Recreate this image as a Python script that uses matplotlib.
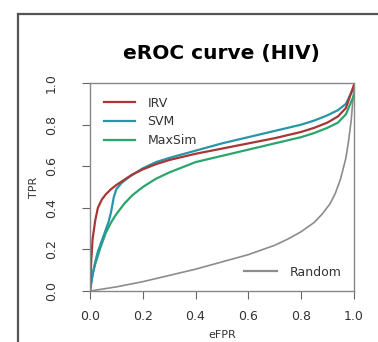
import numpy as np
import matplotlib
matplotlib.use('Agg')
import matplotlib.pyplot as plt
from matplotlib.lines import Line2D

# values
fpr_irv = [0.0, 0.005, 0.01, 0.02, 0.03, 0.045, 0.06, 0.08, 0.1, 0.13, 0.16, 0.2, 0.25, 0.3, 0.35,
           0.4, 0.5, 0.6, 0.7, 0.8, 0.85, 0.9, 0.94, 0.97, 1.0]
tpr_irv = [0.0, 0.15, 0.25, 0.34, 0.40, 0.44, 0.465, 0.49, 0.51, 0.535, 0.56, 0.585, 0.61, 0.63, 0.645,
           0.66, 0.685, 0.71, 0.735, 0.765, 0.785, 0.81, 0.84, 0.88, 0.99]

fpr_svm = [0.0, 0.01, 0.02, 0.03, 0.05, 0.07, 0.08, 0.09, 0.1, 0.12, 0.15, 0.2, 0.25, 0.3, 0.4,
           0.5, 0.6, 0.7, 0.8, 0.85, 0.9, 0.94, 0.97, 1.0]
tpr_svm = [0.0, 0.08, 0.14, 0.19, 0.26, 0.33, 0.38, 0.45, 0.49, 0.52, 0.55, 0.59, 0.62, 0.64, 0.675,
           0.71, 0.74, 0.77, 0.80, 0.82, 0.845, 0.87, 0.90, 0.98]

fpr_max = [0.0, 0.01, 0.02, 0.04, 0.06, 0.08, 0.1, 0.13, 0.16, 0.2, 0.25, 0.3, 0.4, 0.5, 0.6,
           0.7, 0.8, 0.85, 0.9, 0.94, 0.97, 1.0]
tpr_max = [0.0, 0.08, 0.13, 0.21, 0.28, 0.33, 0.37, 0.42, 0.46, 0.50, 0.54, 0.57, 0.62, 0.65, 0.68,
           0.71, 0.74, 0.76, 0.785, 0.81, 0.85, 0.94]

fpr_rand = [0.0, 0.1, 0.2, 0.3, 0.4, 0.5, 0.6, 0.7, 0.75, 0.8, 0.85, 0.88, 0.91, 0.93, 0.95,
            0.97, 0.98, 0.99, 1.0]
tpr_rand = [0.0, 0.02, 0.045, 0.075, 0.105, 0.14, 0.175, 0.22, 0.25, 0.285, 0.33, 0.37, 0.42, 0.47, 0.54,
            0.64, 0.72, 0.82, 0.97]

ticks = [0.0, 0.2, 0.4, 0.6, 0.8, 1.0]
tick_labels = ['0.0', '0.2', '0.4', '0.6', '0.8', '1.0']

col_irv = '#a83636'
col_svm = '#2696a8'
col_max = '#2aa66c'
col_rand = '#8c8c8c'

fig = plt.figure(figsize=(3.78, 3.42), dpi=100)
ax = fig.add_axes([0.238, 0.149, 0.698, 0.608])

ax.plot(fpr_rand, tpr_rand, color=col_rand, lw=1.2)
ax.plot(fpr_max, tpr_max, color=col_max, lw=1.6)
ax.plot(fpr_svm, tpr_svm, color=col_svm, lw=1.6)
ax.plot(fpr_irv, tpr_irv, color=col_irv, lw=1.6)

ax.set_xlim(0, 1)
ax.set_ylim(0, 1)
ax.set_xticks(ticks)
ax.set_xticklabels(tick_labels)
ax.set_yticks(ticks)
ax.set_yticklabels(tick_labels, rotation=90, va='center')
ax.tick_params(direction='out', length=6, width=0.8, colors='#666666',
               labelcolor='#333333', labelsize=9)
ax.tick_params(axis='x', pad=8)
ax.tick_params(axis='y', pad=17)
for s in ax.spines.values():
    s.set_color('#888888')
    s.set_linewidth(1.0)

ax.set_xlabel('eFPR', fontsize=8, color='#333333', labelpad=5)
ax.set_ylabel('TPR', fontsize=8, color='#333333', labelpad=4)
ax.set_title('eROC curve (HIV)', fontsize=14.5, fontweight='bold', pad=17)

handles = [Line2D([], [], color=col_irv, lw=1.6),
           Line2D([], [], color=col_svm, lw=1.6),
           Line2D([], [], color=col_max, lw=1.6)]
leg1 = ax.legend(handles, ['IRV', 'SVM', 'MaxSim'], loc='upper left', frameon=False,
                 fontsize=9, handlelength=2.5, handletextpad=1.0,
                 labelspacing=0.45, borderaxespad=0.7, labelcolor='#333333')
ax.add_artist(leg1)
ax.legend([Line2D([], [], color=col_rand, lw=1.6)], ['Random'], loc='lower right',
          frameon=False, fontsize=9, handlelength=2.6, handletextpad=1.0,
          borderaxespad=0.6, labelcolor='#333333')

# outer panel frame (cut off at right and bottom)
fig.add_artist(Line2D([0.048, 0.048], [0.0, 0.959], color='#555555', lw=1.6))
fig.add_artist(Line2D([0.048, 1.0], [0.959, 0.959], color='#555555', lw=1.6))

fig.savefig('out.png', dpi=100)
